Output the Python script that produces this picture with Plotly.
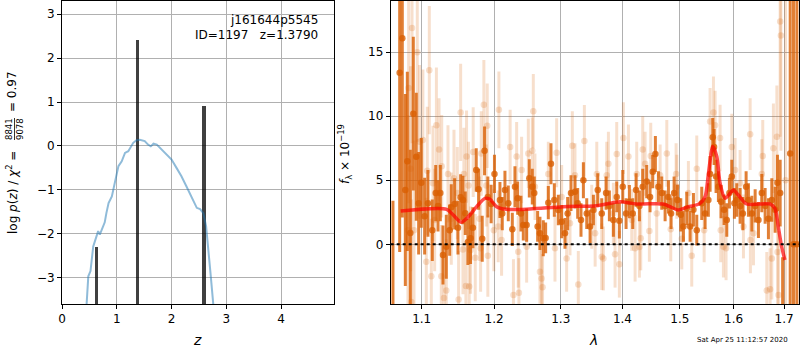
import plotly.graph_objects as go

# ---------------- left panel: p(z) ----------------
pz_z = [0.44, 0.45, 0.48, 0.52, 0.57, 0.63, 0.66, 0.69, 0.72, 0.78, 0.81, 0.85, 0.91, 0.97, 1.03,
        1.09, 1.15, 1.21, 1.30, 1.36, 1.42, 1.51, 1.57, 1.62, 1.67, 1.73, 1.82, 1.91, 2.00, 2.09,
        2.18, 2.27, 2.36, 2.46, 2.52, 2.58, 2.63, 2.67, 2.71, 2.76, 2.78]
pz_logp = [-4.0, -3.59, -2.97, -2.85, -2.29, -2.02, -1.94, -2.02, -1.91, -1.74, -1.53, -1.30, -1.15,
           -0.77, -0.46, -0.35, -0.16, -0.12, 0.07, 0.13, 0.14, 0.11, 0.03, -0.01, 0.05, 0.03, -0.08,
           -0.20, -0.31, -0.50, -0.69, -0.92, -1.15, -1.41, -1.44, -1.53, -1.83, -2.29, -2.89, -3.59, -4.0]
peak_z = [0.63, 1.379, 2.59]
peak_logp = [-2.31, 2.41, 0.90]
z_ticks = [0, 1, 2, 3, 4]
logp_ticks = [-3, -2, -1, 0, 1, 2, 3]
logp_ticktext = ["\u22123", "\u22122", "\u22121", "0", "1", "2", "3"]

# ---------------- right panel: spectrum ----------------
dark_wave = [1.0627, 1.0713, 1.0747, 1.0786, 1.0812, 1.0851, 1.0890, 1.0929, 1.0960, 1.0995,
             1.1039, 1.1083, 1.1141, 1.1187, 1.1218, 1.1249, 1.1285, 1.1330, 1.1376, 1.1398,
             1.1444, 1.1490, 1.1527, 1.1559, 1.1591, 1.1628, 1.1665, 1.1698, 1.1745, 1.1778,
             1.1830, 1.1863, 1.1910, 1.1957, 1.2005,
             1.2084, 1.2118, 1.2157, 1.2206, 1.2265, 1.2304, 1.2344, 1.2393, 1.2428, 1.2478,
             1.2518, 1.2563, 1.2593, 1.2644, 1.2679, 1.2730, 1.2766, 1.2807, 1.2848, 1.2900,
             1.2962, 1.3014, 1.3066, 1.3108, 1.3161, 1.3224, 1.3267, 1.3320, 1.3358, 1.3412,
             1.3466, 1.3520, 1.3591,
             1.3656, 1.3727, 1.3782, 1.3848, 1.3904, 1.3948, 1.4005, 1.4061, 1.4117, 1.4174,
             1.4231, 1.4288, 1.4345, 1.4414, 1.4472, 1.4519, 1.4565, 1.4618, 1.4677, 1.4736,
             1.4795, 1.4842, 1.4896, 1.4956, 1.5016, 1.5064, 1.5124, 1.5185, 1.5246, 1.5307,
             1.5399, 1.5461, 1.5522, 1.5554, 1.5604, 1.5629, 1.5666, 1.5710, 1.5761, 1.5818,
             1.5869, 1.5919, 1.5965, 1.6015, 1.6061, 1.6125, 1.6178, 1.6242, 1.6287, 1.6354,
             1.6419, 1.6484, 1.6551, 1.6617, 1.6683, 1.6751, 1.6818, 1.6865, 1.6920,
             1.6970, 1.7125, 1.7193, 1.7263]
dark_flux = [-8.0, 13.4, 16.1, 4.24, 6.48, 0.88, 10.2, 6.84, 3.2, 4.8,
             2.2, 3.2, 1.1, 4.0, 3.0, 4.0, -0.84, -0.19, 1.1, 2.9,
             3.15, 1.3, 3.67, 3.46, 2.42, 0.18, 0.47, 1.3, 5.8, 4.3,
             0.44, 7.3, 3.7, 3.15, 5.5,
             3.46, 2.4, 4.24, 3.2, 1.17, 4.5, 3.6, 2.4, 1.5, 1.5,
             5.15, 4.5, 4.0, 1.4, 0.86, 0.47, 0.5, 3.25, 6.3, 3.46,
             2.68, 1.77, 0.86, 2.4, 4.0, 4.1, 3.2, 1.9, 5.0, 2.4,
             1.4, 2.68, 4.24,
             2.4, 4.0, 3.0, 1.9, 3.7, 1.85, 4.5, 2.4, 3.33, 2.4,
             4.24, 3.0, 4.5, 4.9, 3.7, 5.67, 7.05, 4.5, 4.0, 3.0,
             3.7, 2.4, 4.0, 3.46, 2.3, 1.4, 2.8, 1.4, 2.7, 1.1,
             3.2, 2.4, 3.46, 5.5, 8.36, 7.6, 5.3, 4.5, 3.33, 2.7,
             1.9, 4.0, 5.3, 3.2, 3.46, 3.0, 2.4, 4.5, 3.46, 2.4,
             3.0, 1.9, 4.0, 3.0, 2.0, 3.46, 2.7, 4.8, 4.0,
             -9.0, 7.1, 0.0, 0.0]
dark_err = [11.4, 14.0, 14.0, 7.5, 7.0, 6.5, 6.0, 5.0, 4.0, 3.5,
            3.0, 2.6, 2.4, 2.2, 2.0, 2.2, 2.3, 2.5, 2.0, 1.8,
            2.0, 2.1, 1.8, 1.9, 1.7, 1.8, 2.0, 1.6, 1.7, 1.6,
            1.8, 1.9, 1.6, 1.5, 1.5,
            1.4, 1.3, 1.5, 1.4, 1.3, 1.6, 1.3, 1.4, 1.2, 1.3,
            1.5, 1.4, 1.3, 1.2, 1.3, 1.4, 1.2, 1.3, 1.6, 1.3,
            1.2, 1.3, 1.2, 1.3, 1.4, 1.3, 1.2, 1.3, 1.4, 1.2,
            1.3, 1.2, 1.3,
            1.2, 1.3, 1.2, 1.3, 1.2, 1.4, 1.3, 1.2, 1.3, 1.2,
            1.3, 1.2, 1.4, 1.3, 1.2, 1.3, 1.4, 1.2, 1.3, 1.2,
            1.3, 1.2, 1.3, 1.2, 1.3, 1.2, 1.3, 1.2, 1.3, 1.2,
            1.3, 1.2, 1.3, 1.4, 1.5, 1.4, 1.3, 1.2, 1.3, 1.2,
            1.3, 1.2, 1.3, 1.2, 1.3, 1.4, 1.3, 1.2, 1.3, 1.4,
            1.3, 1.4, 1.5, 1.4, 1.6, 1.7, 1.8, 2.2, 2.6,
            8.0, 40.0, 40.0, 40.0]

light_wave = [1.0820, 1.0829, 1.0855, 1.0864, 1.0873, 1.0899, 1.0942, 1.0972, 1.1016, 1.1061,
              1.1074, 1.1101, 1.1128, 1.1150, 1.1173, 1.1196, 1.1232, 1.1262, 1.1268, 1.1298,
              1.1330, 1.1353, 1.1398, 1.1435, 1.1481, 1.1499, 1.1527, 1.1559, 1.1572, 1.1600,
              1.1609, 1.1637, 1.1646, 1.1665, 1.1702, 1.1731, 1.1792, 1.1807, 1.1816, 1.1853,
              1.1887, 1.1901, 1.1910, 1.1996,
              1.2059, 1.2069, 1.2108, 1.2233, 1.2282, 1.2329, 1.2353, 1.2363, 1.2403, 1.2478,
              1.2503, 1.2563, 1.2578, 1.2603, 1.2679, 1.2704, 1.2719, 1.2807, 1.2910, 1.2936,
              1.3014, 1.3092, 1.3145, 1.3182, 1.3224, 1.3277, 1.3374, 1.3493, 1.3548, 1.3575,
              1.3656, 1.3683, 1.3738, 1.3766, 1.3848, 1.3876, 1.3904, 1.3948, 1.4016, 1.4101,
              1.4157, 1.4214, 1.4242, 1.4288, 1.4311, 1.4345, 1.4386, 1.4460, 1.4484, 1.4588,
              1.4648, 1.4766, 1.4836, 1.4932, 1.4944, 1.5034, 1.5154, 1.5215, 1.5307,
              1.5443, 1.5554, 1.5617, 1.5648, 1.5742, 1.5754, 1.5805, 1.5855, 1.5965, 1.6028,
              1.6125, 1.6190, 1.6321, 1.6326, 1.6386, 1.6551, 1.6570, 1.6650, 1.6717, 1.6751,
              1.6783, 1.6853, 1.6866, 1.6886, 1.6920, 1.6934, 1.7030]
light_flux = [1.1, 12.2, 5.9, -4.5, 16.9, 1.1, 15.0, 8.0, 8.15, -1.36,
              5.75, 13.6, -2.5, 4.76, 1.9, 9.3, 7.4, -2.5, 6.1, -4.2,
              -3.6, 5.5, 2.0, 5.15, 4.0, -4.3, 10.3, -0.4, 5.5, -3.26,
              6.85, 4.6, -3.3, -0.45, 7.2, -1.04, 2.0, -0.3, 7.1, 10.9,
              4.6, 9.25, -0.9, 1.1,
              1.4, 10.5, 0.34, 7.6, -3.96, 6.85, -0.58, -3.78, 5.8, -0.19,
              7.1, 7.3, 10.4, 4.5, -2.14, -2.66, -3.36, 5.5, -0.31, 7.15,
              3.7, -1.1, 1.64, 7.7, 5.4, -3.13, 8.07, 2.15, 0.86, 5.5,
              -0.97, -1.1, 5.4, 6.3, 2.4, -0.78, 7.05, -1.56, 8.3, 6.85,
              1.9, -0.31, 5.5, -0.2, 0.47, 7.4, 6.3, 1.04, 6.9, 2.4,
              5.4, 7.1, 1.17, 5.5, 4.5, 0.44, 4.0, -0.9, 5.9,
              1.1, 9.6, 10.3, 9.3, 8.3, 1.1, -0.19, -0.3, 7.6, 5.8,
              4.76, 1.4, 8.6, 0.34, 0.86, 5.5, 6.9, -3.6, -3.5, -1.1,
              7.5, 8.4, -0.6, -3.95, 17.4, 16.3, 5.0]
light_err = [9.0, 9.0, 8.0, 8.0, 9.0, 7.0, 7.0, 6.0, 5.5, 5.0,
             5.0, 5.0, 4.5, 4.5, 4.0, 4.5, 4.0, 4.0, 4.0, 4.0,
             4.0, 3.8, 3.6, 3.8, 3.6, 3.8, 3.8, 3.5, 3.6, 3.5,
             3.6, 3.4, 3.5, 3.4, 3.5, 3.4, 3.3, 3.4, 3.3, 3.5,
             3.2, 3.3, 3.2, 3.2,
             2.8, 3.0, 2.8, 2.9, 2.8, 2.7, 2.8, 2.7, 2.6, 2.8,
             2.7, 2.6, 2.9, 2.6, 2.5, 2.7, 2.6, 2.5, 2.6, 2.7,
             2.5, 2.6, 2.5, 2.7, 2.5, 2.6, 2.8, 2.5, 2.6, 2.5,
             2.6, 2.5, 2.6, 2.5, 2.4, 2.6, 2.5, 2.6, 2.8, 2.5,
             2.4, 2.6, 2.5, 2.4, 2.5, 2.6, 2.5, 2.4, 2.6, 2.5,
             2.4, 2.6, 2.5, 2.4, 2.5, 2.4, 2.5, 2.4, 2.6,
             2.5, 2.6, 2.8, 2.7, 2.6, 2.5, 2.4, 2.5, 2.6, 2.5,
             2.6, 2.5, 2.8, 2.6, 2.5, 2.7, 2.8, 3.0, 3.2, 3.2,
             3.5, 4.0, 4.5, 5.0, 9.0, 9.0, 40.0]

model_wave = [1.0726, 1.1335, 1.1426, 1.1532, 1.1612, 1.1751, 1.1869, 1.1940, 1.2036, 1.2181,
              1.2527, 1.3042, 1.3573, 1.3955, 1.4239, 1.4703, 1.4823, 1.4972, 1.5123, 1.5369,
              1.5461, 1.5524, 1.5605, 1.5680, 1.5742, 1.5836, 1.5931, 1.5994, 1.6091, 1.6252,
              1.6712, 1.6813, 1.6881, 1.6950, 1.7017]
model_flux = [2.6, 2.73, 2.29, 1.72, 2.03, 2.94, 3.59, 3.52, 2.94, 2.73,
              2.76, 2.94, 3.02, 3.33, 3.15, 3.15, 2.94, 2.68, 2.89, 3.2,
              3.72, 5.55, 7.63, 6.85, 4.77, 3.59, 3.98, 4.24, 3.85, 3.15,
              3.15, 2.81, 1.38, -0.18, -1.22]
wave_ticks = [1.1, 1.2, 1.3, 1.4, 1.5, 1.6, 1.7]
flux_ticks = [0, 5, 10, 15]

# ---------------- figure ----------------
W, H = 800, 350
FONT = "DejaVu Sans"
ORANGE_DARK = "rgba(217,95,2,0.8)"
ORANGE_LIGHT = "rgba(217,95,2,0.2)"
BAR_BASE = -4.0

fig = go.Figure()

fig.add_trace(go.Scatter(x=pz_z, y=pz_logp, mode="lines",
                         line=dict(color="rgba(31,119,180,0.5)", width=2),
                         xaxis="x", yaxis="y", showlegend=False))
fig.add_trace(go.Bar(x=peak_z, y=[v - BAR_BASE for v in peak_logp], base=BAR_BASE,
                     width=0.065, marker=dict(color="rgba(0,0,0,0.75)", line=dict(width=0)),
                     xaxis="x", yaxis="y", showlegend=False))

fig.add_trace(go.Scatter(x=light_wave, y=light_flux, mode="markers",
                         marker=dict(size=6.5, color=ORANGE_LIGHT, line=dict(width=0)),
                         error_y=dict(type="data", array=light_err, color=ORANGE_LIGHT,
                                      thickness=3, width=0),
                         xaxis="x2", yaxis="y2", showlegend=False))
fig.add_trace(go.Scatter(x=dark_wave, y=dark_flux, mode="markers",
                         marker=dict(size=6.5, color=ORANGE_DARK, line=dict(width=0)),
                         error_y=dict(type="data", array=dark_err, color=ORANGE_DARK,
                                      thickness=3, width=0),
                         xaxis="x2", yaxis="y2", showlegend=False))
fig.add_trace(go.Scatter(x=model_wave, y=model_flux, mode="lines",
                         line=dict(color="rgba(255,0,0,0.7)", width=3.5, shape="spline", smoothing=0.8),
                         xaxis="x2", yaxis="y2", showlegend=False))

ydom = [1 - 304 / H, 1 - 1 / H]
axis_common = dict(showgrid=True, gridcolor="#b0b0b0", gridwidth=1, zeroline=False,
                   showline=True, linecolor="black", linewidth=1, mirror=True,
                   ticks="outside", ticklen=4, tickcolor="black", tickwidth=1,
                   tickfont=dict(family=FONT, size=12, color="black"), automargin=False)

fig.update_layout(
    width=W, height=H, margin=dict(l=0, r=0, t=0, b=0),
    paper_bgcolor="white", plot_bgcolor="white",
    font=dict(family=FONT, size=12, color="black"),
    xaxis=dict(domain=[62 / W, 334.3 / W], range=[0, 4.97], tickvals=z_ticks,
               anchor="y", **axis_common),
    yaxis=dict(domain=ydom, range=[-3.60, 3.30], tickvals=logp_ticks, ticktext=logp_ticktext,
               anchor="x", **axis_common),
    xaxis2=dict(domain=[390.7 / W, 799.3 / W], type="log", range=[0.02523, 0.23838],
                tickvals=wave_ticks, ticktext=[str(v) for v in wave_ticks],
                anchor="y2", **axis_common),
    yaxis2=dict(domain=ydom, range=[-4.66, 19.0], tickvals=flux_ticks,
                anchor="x2", **axis_common),
    bargap=0,
)

fig.add_shape(type="line", xref="x2 domain", yref="y2", x0=0, x1=1, y0=0, y1=0,
              line=dict(color="black", width=2, dash="dot"), layer="above")

def px(x):
    return x / W

def py(y):
    return 1 - y / H

ann = []
ann.append(dict(x=px(320), y=py(20), text="j161644p5545", xanchor="right", yanchor="middle",
                font=dict(size=12)))
ann.append(dict(x=px(320), y=py(35), text="ID=1197\u00a0\u00a0\u00a0z=1.3790", xanchor="right",
                yanchor="middle", font=dict(size=12)))
ann.append(dict(x=px(197), y=py(340), text="<i>z</i>", xanchor="center", yanchor="middle",
                font=dict(size=14)))
ann.append(dict(x=px(593), y=py(340), text="<i>λ</i>", xanchor="center", yanchor="middle",
                font=dict(size=14)))
ann.append(dict(x=px(742), y=py(340), text="Sat Apr 25 11:12:57 2020", xanchor="center",
                yanchor="middle", font=dict(size=7)))
ann.append(dict(x=px(12), y=py(193), text="log <i>p</i>(<i>z</i>) / <i>χ</i><sup>2</sup> =",
                textangle=-90, xanchor="center", yanchor="middle", font=dict(size=12)))
ann.append(dict(x=px(14), y=py(129), text="8841<br>9078", textangle=-90, xanchor="center",
                yanchor="middle", font=dict(size=8.5)))
ann.append(dict(x=px(12), y=py(92), text="= 0.97", textangle=-90, xanchor="center",
                yanchor="middle", font=dict(size=12)))
ann.append(dict(x=px(345), y=py(154), text="<i>f</i><sub>λ</sub> × 10<sup>−19</sup>",
                textangle=-90, xanchor="center", yanchor="middle", font=dict(size=12)))
for a in ann:
    a.update(xref="paper", yref="paper", showarrow=False)
fig.update_layout(annotations=ann)

fig.add_shape(type="line", xref="paper", yref="paper", x0=px(14.5), x1=px(14.5),
              y0=py(118), y1=py(140), line=dict(color="black", width=0.8))

fig.write_html("out.html")
